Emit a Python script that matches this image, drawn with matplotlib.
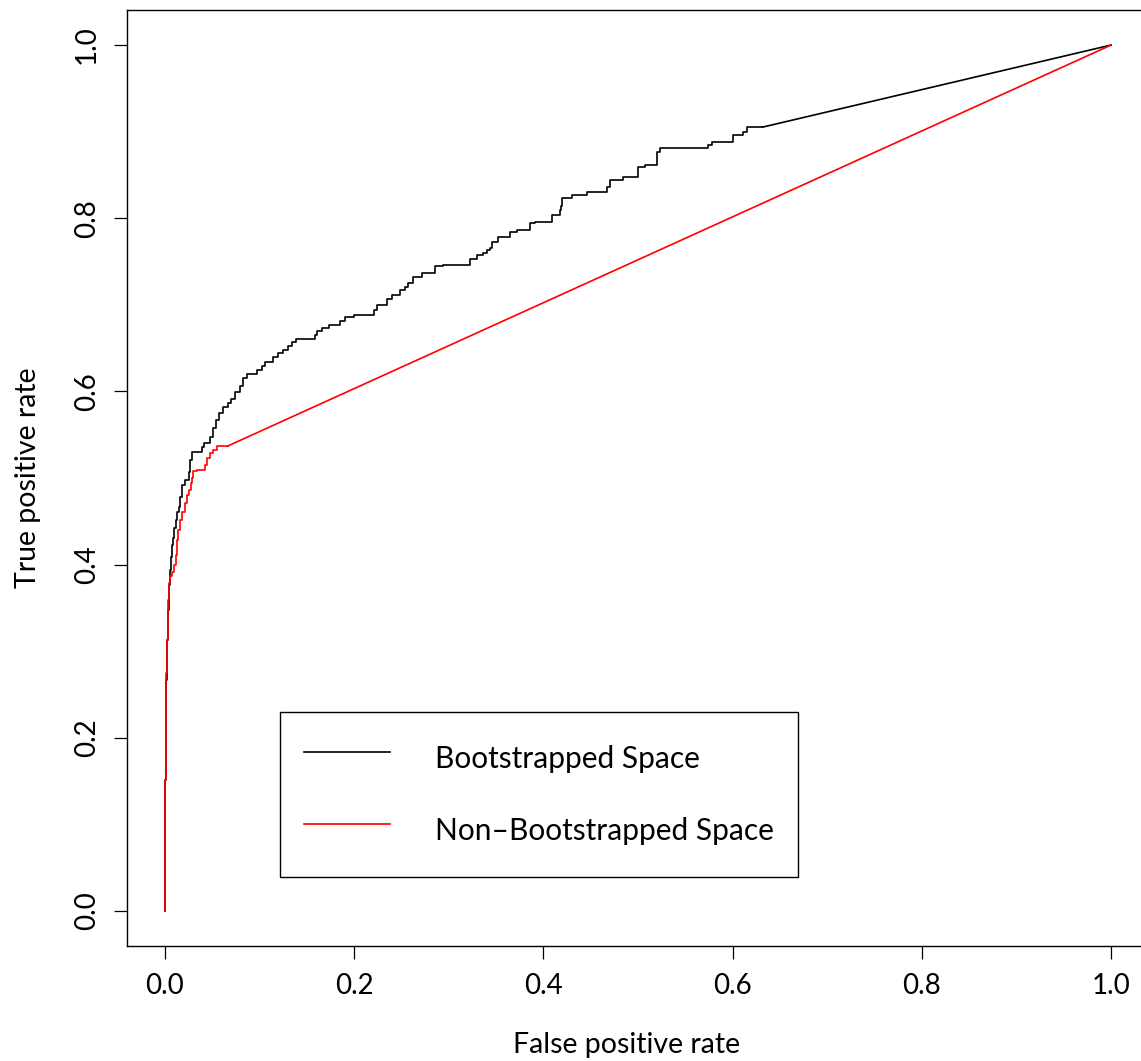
import matplotlib
matplotlib.use("Agg")
import matplotlib.pyplot as plt

plt.rcParams['font.family'] = ['Lato', 'DejaVu Sans']

# ROC curve staircase points (false positive rate, true positive rate)
boot_fpr = [0.0, 0.0005, 0.0011, 0.0016, 0.0021, 0.0032, 0.0042, 0.0053, 0.0063, 0.0074,
            0.0085, 0.0095, 0.0116, 0.0127, 0.0148, 0.0159, 0.0180, 0.0211, 0.0254, 0.0264,
            0.0285, 0.0391, 0.0412, 0.0476, 0.0507, 0.0539, 0.0571, 0.0613, 0.0666, 0.0698,
            0.0740, 0.0793, 0.0825, 0.0867, 0.0973, 0.1025, 0.1057, 0.1142, 0.1195, 0.1247,
            0.1300, 0.1342, 0.1385, 0.1586, 0.1607, 0.1660, 0.1734, 0.1850, 0.1903, 0.1998,
            0.2209, 0.2241, 0.2347, 0.2400, 0.2484, 0.2537, 0.2569, 0.2622, 0.2717, 0.2854,
            0.2939, 0.3224, 0.3298, 0.3362, 0.3404, 0.3436, 0.3457, 0.3520, 0.3647, 0.3721,
            0.3858, 0.3911, 0.4091, 0.4175, 0.4186, 0.4197, 0.4302, 0.4461, 0.4672, 0.4704,
            0.4841, 0.5000, 0.5074, 0.5201, 0.5233, 0.5740, 0.5782, 0.6004, 0.6110, 0.6152,
            0.6321]
boot_tpr = [0.0, 0.0704, 0.1513, 0.2206, 0.2667, 0.3129, 0.3476, 0.3764, 0.3938, 0.4088,
            0.4226, 0.4307, 0.4423, 0.4515, 0.4607, 0.4665, 0.4781, 0.4919, 0.4977, 0.5069,
            0.5208, 0.5300, 0.5358, 0.5404, 0.5473, 0.5577, 0.5670, 0.5751, 0.5820, 0.5866,
            0.5912, 0.5993, 0.6062, 0.6155, 0.6201, 0.6247, 0.6293, 0.6339, 0.6397, 0.6443,
            0.6478, 0.6524, 0.6570, 0.6605, 0.6651, 0.6697, 0.6732, 0.6767, 0.6813, 0.6859,
            0.6882, 0.6940, 0.6998, 0.7067, 0.7113, 0.7171, 0.7206, 0.7252, 0.7321, 0.7367,
            0.7448, 0.7460, 0.7529, 0.7575, 0.7598, 0.7633, 0.7656, 0.7725, 0.7783, 0.7841,
            0.7864, 0.7945, 0.7956, 0.8037, 0.8095, 0.8141, 0.8233, 0.8268, 0.8303, 0.8360,
            0.8441, 0.8476, 0.8591, 0.8614, 0.8764, 0.8811, 0.8845, 0.8880, 0.8961, 0.8995,
            0.9053]

nonboot_fpr = [0.0, 0.0005, 0.0011, 0.0016, 0.0021, 0.0032, 0.0037, 0.0042, 0.0053, 0.0074,
               0.0095, 0.0116, 0.0127, 0.0137, 0.0159, 0.0180, 0.0211, 0.0233, 0.0254, 0.0275,
               0.0285, 0.0296, 0.0338, 0.0423, 0.0444, 0.0476, 0.0507, 0.0550, 0.0666]
nonboot_tpr = [0.0, 0.0704, 0.1513, 0.2206, 0.2748, 0.3129, 0.3441, 0.3591, 0.3788, 0.3868,
               0.3915, 0.3995, 0.4111, 0.4284, 0.4400, 0.4515, 0.4607, 0.4711, 0.4804, 0.4861,
               0.4942, 0.5000, 0.5081, 0.5092, 0.5150, 0.5231, 0.5289, 0.5323, 0.5370]

labels = ["Bootstrapped Space", "Non\u2013Bootstrapped Space"]
colors = ["black", "red"]

fig = plt.figure(figsize=(11.41, 10.61), dpi=100)
ax = fig.add_axes([0.1113, 0.1088, 0.8957, 0.8814])

# staircase part, then the straight segment to (1, 1)
for fpr, tpr, col, lab in [(boot_fpr, boot_tpr, colors[0], labels[0]),
                           (nonboot_fpr, nonboot_tpr, colors[1], labels[1])]:
    ax.plot(fpr, tpr, color=col, lw=1.2, label=lab, drawstyle='steps-pre')
    ax.plot([fpr[-1], 1.0], [tpr[-1], 1.0], color=col, lw=1.2)

ax.set_xlim(-0.04, 1.04)
ax.set_ylim(-0.04, 1.04)
ticks = [0.0, 0.2, 0.4, 0.6, 0.8, 1.0]
ax.set_xticks(ticks)
ax.set_yticks(ticks)
ax.set_xticklabels(["%.1f" % t for t in ticks])
ax.set_yticklabels(["%.1f" % t for t in ticks], rotation=90, va='center')
ax.tick_params(direction='out', length=9.5, width=0.9, labelsize=20, pad=10)

for s in ax.spines.values():
    s.set_linewidth(1.0)

ax.set_xlabel("False positive rate", fontsize=20.5, va='center')
ax.set_ylabel("True positive rate", fontsize=20.5, va='center', ha='center')
ax.xaxis.set_label_coords(0.489, -0.106)
ax.yaxis.set_label_coords(-0.097, 0.5)

leg = ax.legend(loc='lower left', bbox_to_anchor=(0.1497, 0.0736), fontsize=21.5,
                frameon=True, fancybox=False, edgecolor='black', framealpha=1,
                handlelength=2.9, handletextpad=1.5, borderpad=0.8,
                handleheight=1.95, labelspacing=0.9, borderaxespad=0)
leg.get_frame().set_linewidth(1.0)

fig.savefig("out.png", dpi=100)
